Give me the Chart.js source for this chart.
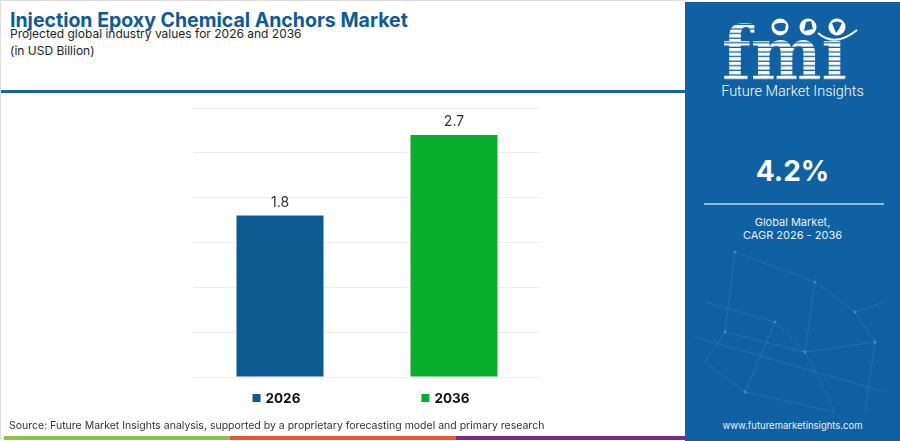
<!DOCTYPE html>
<html>
<head>
<meta charset="utf-8">
<script src="https://cdn.jsdelivr.net/npm/chart.js@4.4.1/dist/chart.umd.min.js"></script>
<style>
  html, body { margin: 0; padding: 0; }
  body { width: 900px; height: 441px; position: relative; overflow: hidden; background: #fff; font-family: Inter, "Noto Sans", sans-serif; }
  .card { position: absolute; left: 0; top: 0; width: 684px; height: 439px; border: 1px solid #dcdcdc; border-right: none; box-sizing: border-box; }
  .title { position: absolute; left: 9px; top: 7px; font-size: 19.5px; font-weight: 700; color: #0d5b96; white-space: nowrap; line-height: 24px; }
  .sub { position: absolute; left: 9px; top: 24px; font-size: 12px; color: #222; line-height: 17px; white-space: nowrap; }
  .rule { position: absolute; left: 0; top: 89px; width: 686px; height: 3px; background: #1a63a4; }
  #wrap { position: absolute; left: 0; top: 92px; width: 685px; height: 330px; }
  .source { position: absolute; left: 8px; top: 418px; font-size: 10.5px; color: #333; white-space: nowrap; }
  .strip { position: absolute; top: 436px; height: 4px; }
  .panel { position: absolute; left: 685px; top: 2px; width: 215px; height: 439px; background: #0f61a4; color: #fff; text-align: center; overflow: hidden; }
  .brand { position: absolute; left: 0; width: 215px; top: 81px; font-family: Roboto, sans-serif; font-weight: 300; font-size: 14.5px; }
  .cagr { position: absolute; left: 0; width: 215px; top: 152px; font-size: 28px; font-weight: 700; }
  .line { position: absolute; left: 19px; width: 180px; top: 201px; height: 2px; background: #8fb9df; }
  .lbl { position: absolute; left: 0; width: 215px; top: 214px; font-size: 11px; line-height: 13px; color: #e8f0f8; }
  .url { position: absolute; left: 0; width: 215px; top: 418px; font-size: 9.5px; color: #eef3f8; }
  svg.net { position: absolute; left: 0; top: 240px; }
  svg.logo { position: absolute; left: 0; top: 0; }
</style>
</head>
<body>
<div class="card">
  <div class="title">Injection Epoxy Chemical Anchors Market</div>
  <div class="sub">Projected global industry values for 2026 and 2036<br>(in USD Billion)</div>
  <div class="rule"></div>
  <div id="wrap"><canvas id="chart"></canvas></div>
  <div class="source">Source: Future Market Insights analysis, supported by a proprietary forecasting model and primary research</div>
</div>
<div class="strip" style="left:4px;width:226px;background:#8cc24a"></div>
<div class="strip" style="left:230px;width:226px;background:#e8582b"></div>
<div class="strip" style="left:456px;width:229px;background:#7a2b86"></div>

<div class="panel">
  <svg class="net" width="215" height="180" viewBox="0 0 215 180">
    <g stroke="rgba(255,255,255,0.09)" stroke-width="1" fill="none">
      <path d="M50 10 L40 90 L20 120 M50 10 L130 40 L170 70 L200 60 M40 90 L120 110 L190 100 M120 110 L130 40 M20 60 L90 80 L120 110 L150 170 M90 80 L60 150 L20 120 M170 70 L190 100 L180 170 M60 150 L150 170 M10 95 L200 150"/>
    </g>
    <g fill="rgba(255,255,255,0.2)">
      <circle cx="50" cy="10" r="1.5"/><circle cx="130" cy="40" r="1.5"/><circle cx="40" cy="90" r="1.5"/>
      <circle cx="120" cy="110" r="1.5"/><circle cx="170" cy="70" r="1.5"/><circle cx="90" cy="80" r="1.5"/>
      <circle cx="60" cy="150" r="1.5"/><circle cx="190" cy="100" r="1.5"/>
    </g>
  </svg>
  <svg class="logo" width="215" height="90">
    <defs>
      <pattern id="stripes" width="10" height="4.6" patternUnits="userSpaceOnUse">
        <rect width="10" height="3.3" fill="#fff"/>
      </pattern>
    </defs>
    <text x="37" y="78" font-family="DejaVu Serif" font-weight="700" font-size="74" textLength="125" lengthAdjust="spacingAndGlyphs" fill="url(#stripes)">fmı</text>
    <g fill="#fff">
      <circle cx="95" cy="25" r="8.5"/><circle cx="123" cy="25" r="8.5"/><circle cx="152" cy="25" r="8.5"/>
    </g>
    <g fill="#0f61a4">
      <path d="M89 23 Q95 19 101 22 L100 28 Q95 31 90 27 Z"/>
      <path d="M119 29 L121 20 L126 19 L128 27 Z"/>
      <path d="M147 21 Q152 18 157 21 L154 27 L151 31 Z"/>
    </g>
    <path d="M133 31 Q150 46 172 28" stroke="#fff" stroke-width="2" fill="none"/>
  </svg>
  <div class="brand">Future Market Insights</div>
  <div class="cagr">4.2%</div>
  <div class="line"></div>
  <div class="lbl">Global Market,<br>CAGR 2026 - 2036</div>
  <div class="url">www.futuremarketinsights.com</div>
</div>

<script>
const categories = ['2026', '2036'];
const values = [1.8, 2.7];
const barColors = ['#0c5a92', '#07ad2c'];

// value above each bar
const valueLabels = {
  id: 'valueLabels',
  afterDatasetsDraw(chart) {
    const ctx = chart.ctx;
    const meta = chart.getDatasetMeta(0);
    ctx.save();
    ctx.font = '14px Inter, "Noto Sans", sans-serif';
    ctx.fillStyle = '#333';
    ctx.textAlign = 'center';
    ctx.textBaseline = 'middle';
    meta.data.forEach((bar, i) => {
      ctx.fillText(values[i].toFixed(1), bar.x, bar.y - 13);
    });
    ctx.restore();
  }
};

// legend row under the chart
const bottomLegend = {
  id: 'bottomLegend',
  afterDraw(chart) {
    const ctx = chart.ctx;
    const area = chart.chartArea;
    const box = 8, gap = 5, spacing = 121;
    ctx.save();
    ctx.font = 'bold 13.5px Inter, "Noto Sans", sans-serif';
    ctx.textBaseline = 'middle';
    const widths = categories.map(c => box + gap + ctx.measureText(c).width);
    const total = widths.reduce((a, b) => a + b, 0) + spacing * (categories.length - 1);
    let x = (area.left + area.right) / 2 - 6 - total / 2;
    const y = area.bottom + 21;
    categories.forEach((c, i) => {
      ctx.fillStyle = barColors[i];
      ctx.fillRect(x, y - box / 2, box, box);
      ctx.fillStyle = '#111';
      ctx.fillText(c, x + box + gap, y + 0.5);
      x += widths[i] + spacing;
    });
    ctx.restore();
  }
};

new Chart(document.getElementById('chart'), {
  type: 'bar',
  data: {
    labels: categories,
    datasets: [{
      data: values,
      backgroundColor: barColors,
      barPercentage: 0.5,
      categoryPercentage: 1.0
    }]
  },
  options: {
    responsive: true,
    maintainAspectRatio: false,
    animation: false,
    layout: { padding: { left: 192, right: 145, top: 15, bottom: 38 } },
    plugins: { legend: { display: false }, tooltip: { enabled: false } },
    scales: {
      x: {
        grid: { display: false },
        border: { display: false },
        ticks: { display: false }
      },
      y: {
        min: 0,
        max: 3,
        ticks: { display: false, stepSize: 0.5 },
        grid: { color: '#eeeeee', drawTicks: false },
        border: { display: false }
      }
    }
  },
  plugins: [valueLabels, bottomLegend]
});
</script>
</body>
</html>
